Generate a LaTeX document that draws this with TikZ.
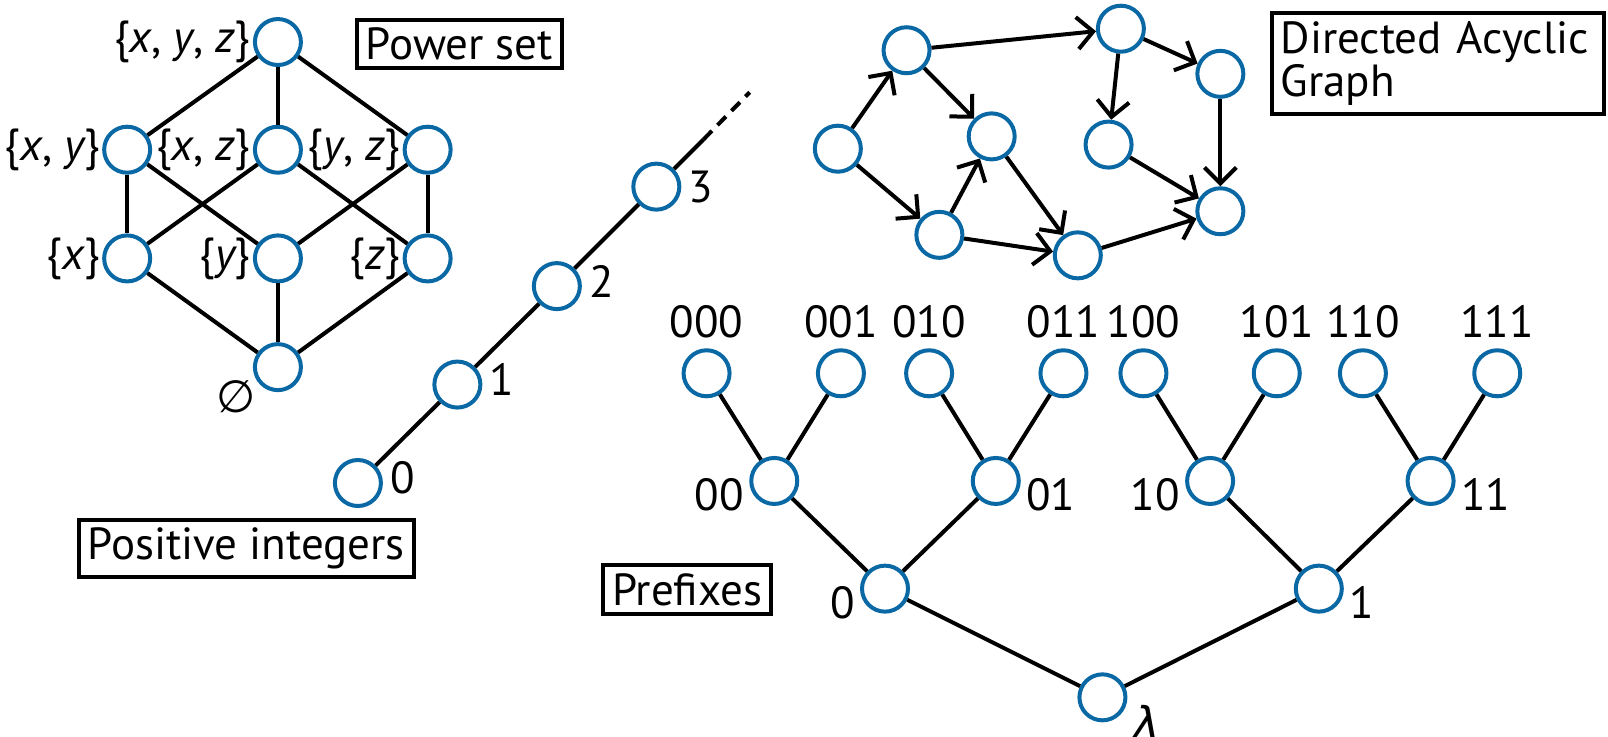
\documentclass[tikz,border=0pt]{standalone}
\usepackage{fontspec}
\setmainfont{PT Sans}
\newfontfamily\symfont{DejaVu Sans}
\usetikzlibrary{arrows.meta}
\definecolor{nodeblue}{RGB}{10,105,165}
\tikzset{
  vtx/.style={circle, draw=nodeblue, line width=2pt, minimum size=23pt, inner sep=0pt, fill=white},
  lbl/.style={inner sep=1pt},
  tag/.style={draw, line width=2pt, inner xsep=4.5pt, inner ysep=4pt},
  edge/.style={line width=2pt},
  arc/.style={line width=2pt, -{Straight Barb[length=8pt,width=16pt]}},
}
\begin{document}
\begin{tikzpicture}[x=0.51275pt, y=-0.51275pt, font=\fontsize{22.5}{20}\selectfont]
\useasboundingbox (0,0) rectangle (1568,718);

\node [vtx, label={[lbl]left:\{{\itshape x}, {\itshape y}, {\itshape z}\}}] (xyz) at (271, 41) {};
\node [vtx, label={[lbl]left:\{{\itshape x}, {\itshape y}\}}] (xy) at (124, 146) {};
\node [vtx, label={[lbl]left:\{{\itshape x}, {\itshape z}\}}] (xz) at (271, 146) {};
\node [vtx, label={[lbl]left:\{{\itshape y}, {\itshape z}\}}] (yz) at (417, 146) {};
\node [vtx, label={[lbl]left:\{{\itshape x}\}}] (x) at (124, 252) {};
\node [vtx, label={[lbl]left:\{{\itshape y}\}}] (y) at (271, 252) {};
\node [vtx, label={[lbl]left:\{{\itshape z}\}}] (z) at (417, 252) {};
\node [vtx, label={[lbl,xshift=-21pt,yshift=-15pt]center:{\symfont ∅}}] (empty) at (271, 358) {};

\draw [edge] (xyz) -- (xy);
\draw [edge] (xyz) -- (xz);
\draw [edge] (xyz) -- (yz);
\draw [edge] (xy) -- (x);
\draw [edge] (xy) -- (y);
\draw [edge] (xz) -- (x);
\draw [edge] (xz) -- (z);
\draw [edge] (yz) -- (y);
\draw [edge] (yz) -- (z);
\draw [edge] (x) -- (empty);
\draw [edge] (y) -- (empty);
\draw [edge] (z) -- (empty);

\node [tag] (powerset) at (448, 43) {Power set};

\node [vtx, label={[lbl,label distance=2.5pt,yshift=2.5pt]right:0}] (n0) at (349, 471) {};
\node [vtx, label={[lbl,label distance=2.5pt,yshift=2.5pt]right:1}] (n1) at (446, 375) {};
\node [vtx, label={[lbl,label distance=2.5pt,yshift=2.5pt]right:2}] (n2) at (543, 279) {};
\node [vtx, label={[lbl,label distance=2.5pt,yshift=0pt]right:3}] (n3) at (640, 182) {};
\coordinate (nmid) at (686, 136);
\coordinate (nmore) at (731, 90);

\draw [edge] (n0) -- (n1);
\draw [edge] (n1) -- (n2);
\draw [edge] (n2) -- (n3);
\draw [edge] (n3) -- (nmid);
\draw [edge, dash pattern=on 6pt off 4pt] (nmid) -- (nmore);

\node [tag] (integers) at (240, 535) {Positive integers};

\node [vtx] (da) at (817, 145) {};
\node [vtx] (db) at (884, 49) {};
\node [vtx] (dc) at (967, 133) {};
\node [vtx] (dd) at (916, 229) {};
\node [vtx] (de) at (1051, 249) {};
\node [vtx] (df) at (1093, 28) {};
\node [vtx] (dg) at (1081, 141) {};
\node [vtx] (dh) at (1190, 72) {};
\node [vtx] (di) at (1190, 206) {};

\draw [arc] (da) -- (db);
\draw [arc] (da) -- (dd);
\draw [arc] (db) -- (dc);
\draw [arc] (db) -- (df);
\draw [arc] (dd) -- (dc);
\draw [arc] (dd) -- (de);
\draw [arc] (dc) -- (de);
\draw [arc] (de) -- (di);
\draw [arc] (df) -- (dg);
\draw [arc] (df) -- (dh);
\draw [arc] (dg) -- (di);
\draw [arc] (dh) -- (di);

\node [tag, align=left, text width=157pt, anchor=west] (dag) at (1238, 62) {Directed Acyclic\\Graph};

\node [vtx, label={[lbl,label distance=4pt]above:000}] (p000) at (689, 364) {};
\node [vtx, label={[lbl,label distance=4pt]above:001}] (p001) at (820, 364) {};
\node [vtx, label={[lbl,label distance=4pt]above:010}] (p010) at (906, 364) {};
\node [vtx, label={[lbl,label distance=4pt]above:011}] (p011) at (1037, 364) {};
\node [vtx, label={[lbl,label distance=4pt]above:100}] (p100) at (1115, 364) {};
\node [vtx, label={[lbl,label distance=4pt]above:101}] (p101) at (1245, 364) {};
\node [vtx, label={[lbl,label distance=4pt]above:110}] (p110) at (1329, 364) {};
\node [vtx, label={[lbl,label distance=4pt]above:111}] (p111) at (1460, 364) {};
\node [vtx, label={[lbl,label distance=1.5pt,yshift=-7pt]left:00}] (p00) at (755, 469) {};
\node [vtx, label={[lbl,label distance=1.5pt,yshift=-7pt]right:01}] (p01) at (971, 469) {};
\node [vtx, label={[lbl,label distance=1.5pt,yshift=-7pt]left:10}] (p10) at (1180, 469) {};
\node [vtx, label={[lbl,label distance=1.5pt,yshift=-7pt]right:11}] (p11) at (1395, 469) {};
\node [vtx, label={[lbl,label distance=1.5pt,yshift=-7pt]left:0}] (p0) at (863, 574) {};
\node [vtx, label={[lbl,label distance=1.5pt,yshift=-7pt]right:1}] (p1) at (1286, 574) {};
\node [vtx, label={[lbl,anchor=north west,xshift=2pt,yshift=-3pt]east:{\symfont\itshape λ}}] (proot) at (1075, 680) {};

\draw [edge] (p000) -- (p00);
\draw [edge] (p001) -- (p00);
\draw [edge] (p010) -- (p01);
\draw [edge] (p011) -- (p01);
\draw [edge] (p100) -- (p10);
\draw [edge] (p101) -- (p10);
\draw [edge] (p110) -- (p11);
\draw [edge] (p111) -- (p11);
\draw [edge] (p00) -- (p0);
\draw [edge] (p01) -- (p0);
\draw [edge] (p10) -- (p1);
\draw [edge] (p11) -- (p1);
\draw [edge] (p0) -- (proot);
\draw [edge] (p1) -- (proot);

\node [tag] (prefixes) at (670, 575) {Prefixes};
\end{tikzpicture}
\end{document}
